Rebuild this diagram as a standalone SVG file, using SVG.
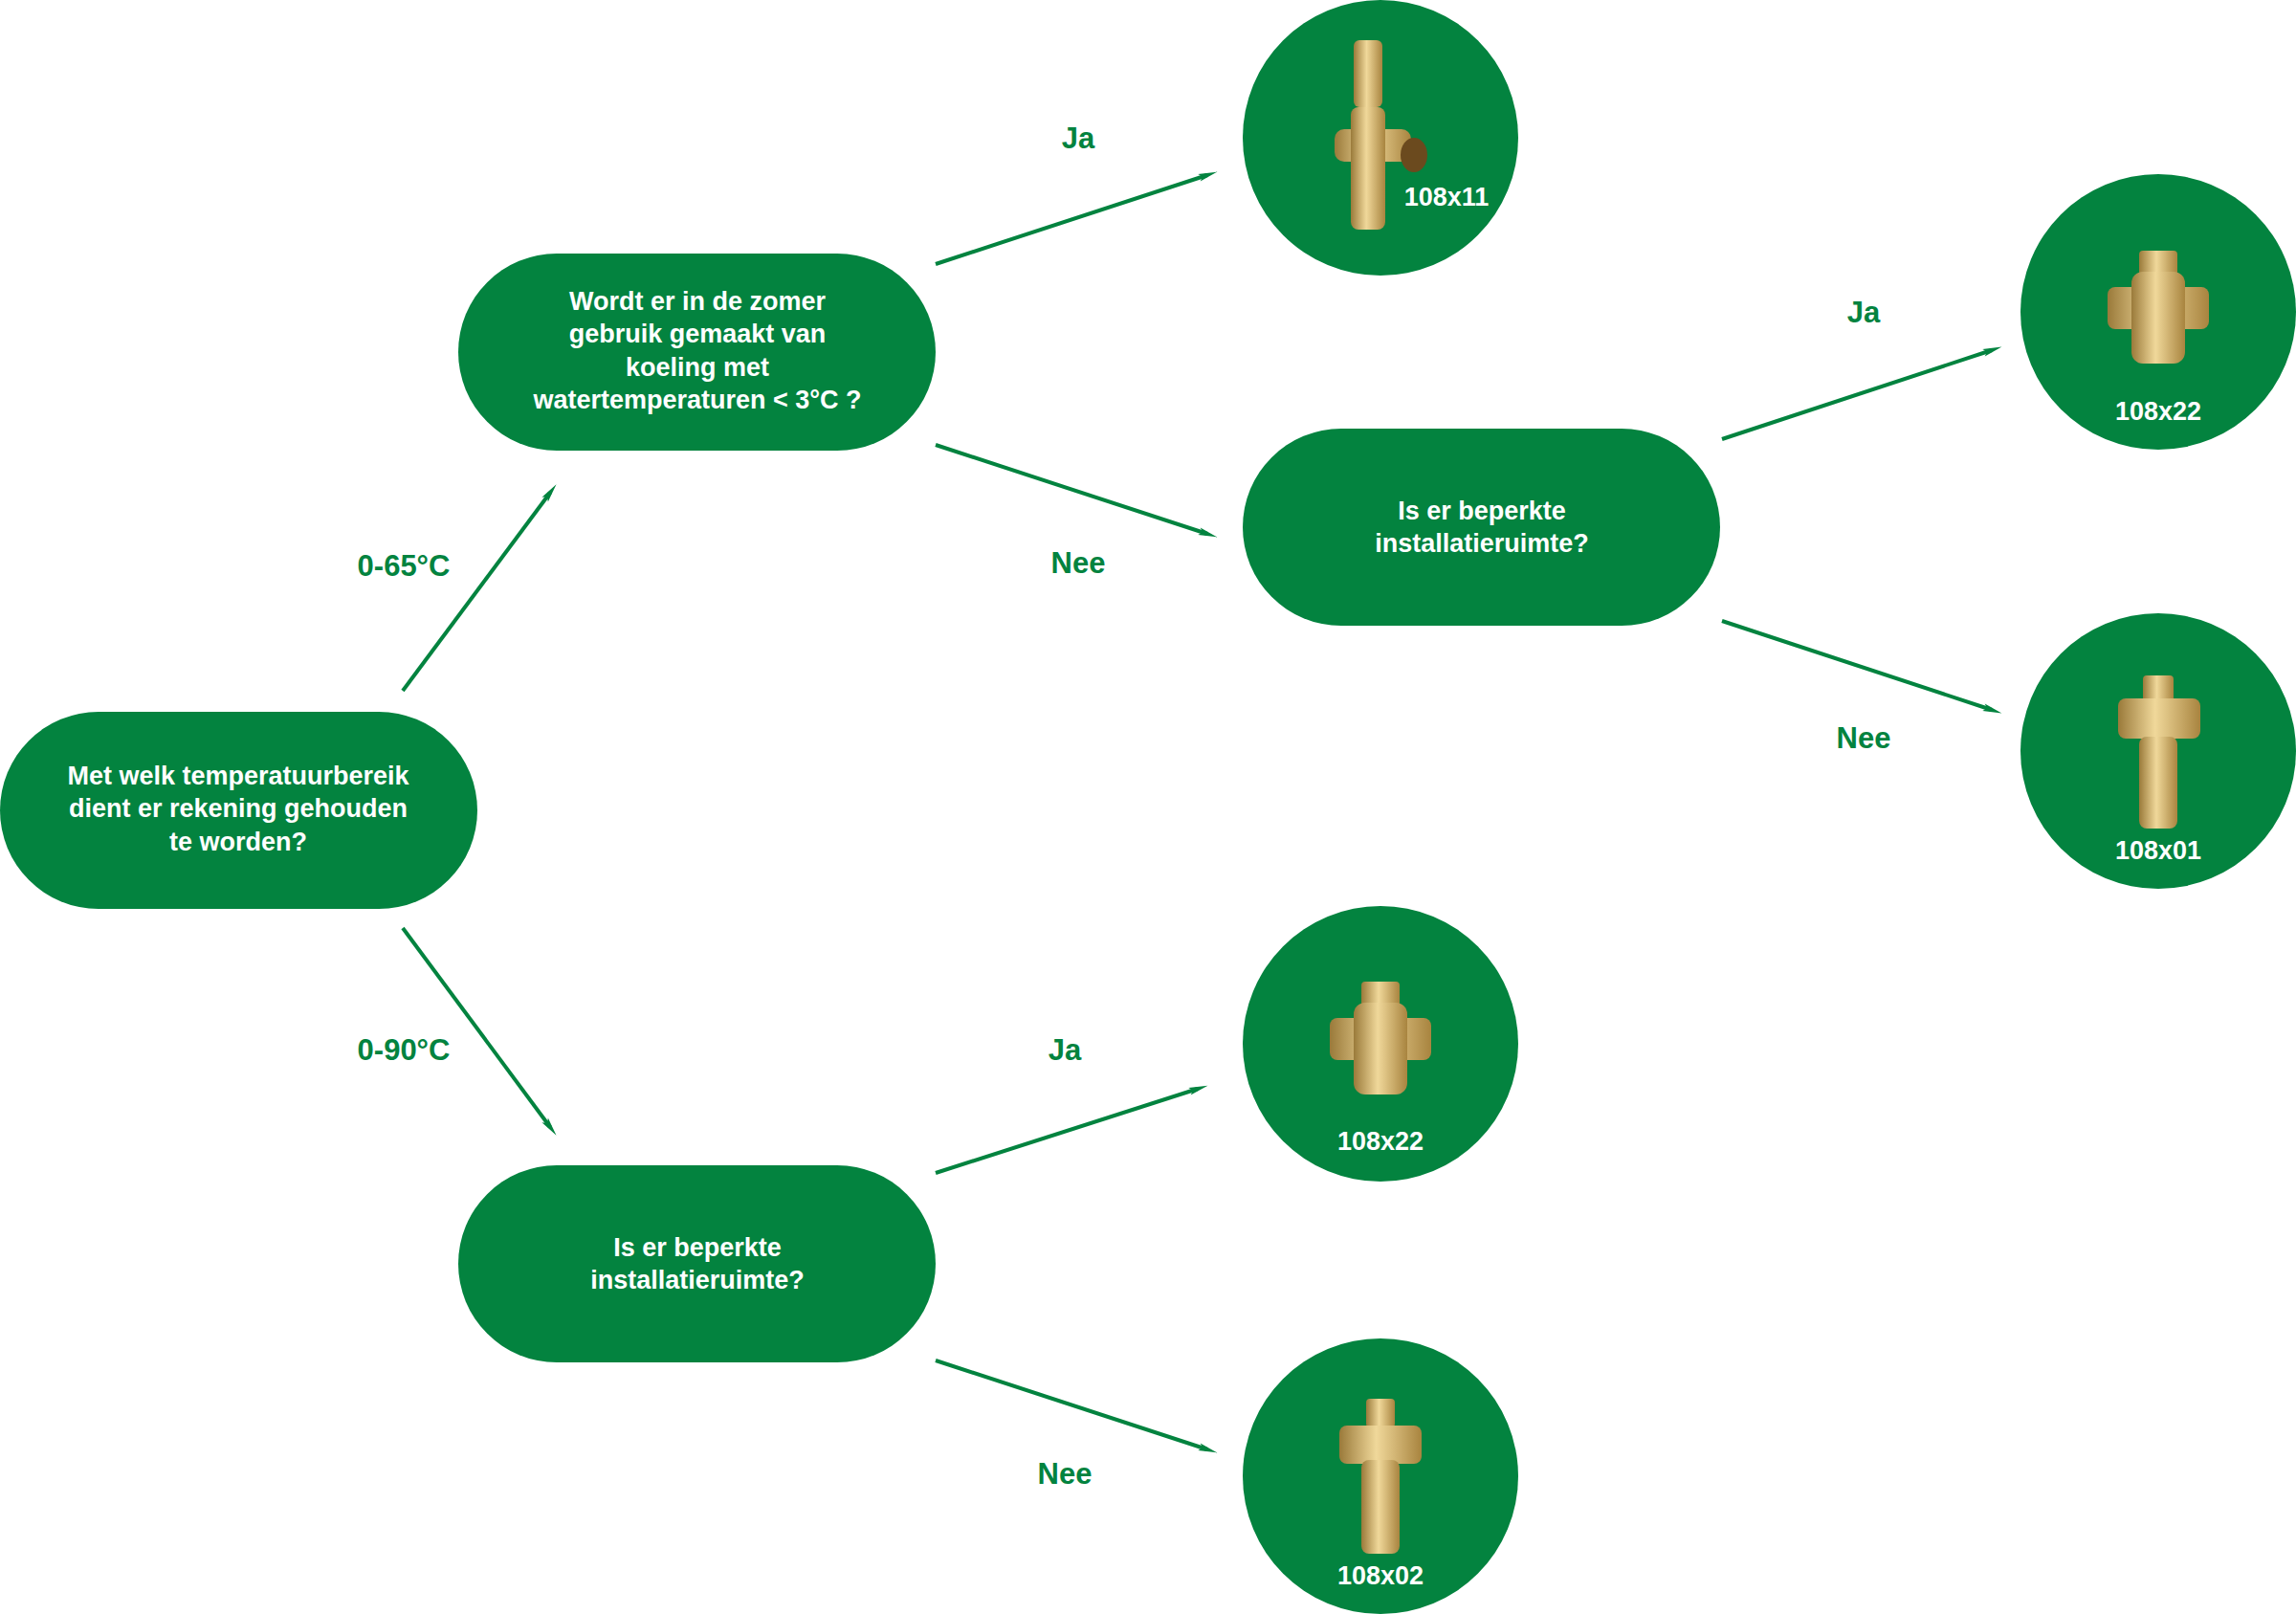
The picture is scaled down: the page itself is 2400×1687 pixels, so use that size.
<svg xmlns="http://www.w3.org/2000/svg" width="2400" height="1687" viewBox="0 0 2400 1687">
<style>
.node{fill:#03833f}
.nt{fill:#fff;font-family:"Liberation Sans",Arial,sans-serif;font-weight:bold;font-size:27px;text-anchor:middle}
.lb{fill:#03833f;font-family:"Liberation Sans",Arial,sans-serif;font-weight:bold;font-size:31px;text-anchor:middle}
.cn{stroke:#03833f;stroke-width:4;fill:none;marker-end:url(#ah)}
.brass{fill:url(#br)}
</style>
<defs>
<marker id="ah" viewBox="0 0 20 16" refX="18" refY="8" markerWidth="10" markerHeight="8" markerUnits="userSpaceOnUse" orient="auto" overflow="visible">
<path d="M0,0 L40,8 L0,16 L8,8 Z" fill="#03833f" transform="scale(1)"/>
</marker>
<linearGradient id="br" x1="0" x2="1"><stop offset="0" stop-color="#9a7a3a"/><stop offset="0.45" stop-color="#f0d89a"/><stop offset="1" stop-color="#a8843f"/></linearGradient>
</defs>
<g id="connectors">
<line class="cn" x1="421" y1="722" x2="575" y2="515"/>
<line class="cn" x1="421" y1="970" x2="575" y2="1178"/>
<line class="cn" x1="978" y1="276" x2="1262" y2="183"/>
<line class="cn" x1="978" y1="465" x2="1262" y2="558"/>
<line class="cn" x1="1800" y1="459" x2="2082" y2="366"/>
<line class="cn" x1="1800" y1="649" x2="2082" y2="742"/>
<line class="cn" x1="978" y1="1226" x2="1252" y2="1138"/>
<line class="cn" x1="978" y1="1422" x2="1262" y2="1515"/>
<text class="lb" x="422" y="602">0-65°C</text>
<text class="lb" x="422" y="1108">0-90°C</text>
<text class="lb" x="1127" y="155">Ja</text>
<text class="lb" x="1127" y="599">Nee</text>
<text class="lb" x="1948" y="337">Ja</text>
<text class="lb" x="1948" y="782">Nee</text>
<text class="lb" x="1113" y="1108">Ja</text>
<text class="lb" x="1113" y="1551">Nee</text>
</g>
<g id="start"><rect class="node" x="0" y="744" width="499" height="206" rx="103"/>
<text class="nt" x="249" y="820">Met welk temperatuurbereik</text><text class="nt" x="249" y="854">dient er rekening gehouden</text><text class="nt" x="249" y="889">te worden?</text></g>
<g id="q1"><rect class="node" x="479" y="265" width="499" height="206" rx="103"/>
<text class="nt" x="729" y="324">Wordt er in de zomer</text><text class="nt" x="729" y="358">gebruik gemaakt van</text><text class="nt" x="729" y="393">koeling met</text><text class="nt" x="729" y="427">watertemperaturen &lt; 3°C ?</text></g>
<g id="q2"><rect class="node" x="1299" y="448" width="499" height="206" rx="103"/>
<text class="nt" x="1549" y="543">Is er beperkte</text><text class="nt" x="1549" y="577">installatieruimte?</text></g>
<g id="q3"><rect class="node" x="479" y="1218" width="499" height="206" rx="103"/>
<text class="nt" x="729" y="1313">Is er beperkte</text><text class="nt" x="729" y="1347">installatieruimte?</text></g>
<g id="p108x11"><circle class="node" cx="1443" cy="144" r="144"/>
<rect class="brass" x="1415" y="42" width="30" height="70" rx="6"/><rect class="brass" x="1395" y="135" width="80" height="34" rx="10"/><ellipse cx="1478" cy="162" rx="14" ry="18" fill="#6b4a1e"/><rect class="brass" x="1412" y="112" width="36" height="128" rx="8"/>
<text class="nt" x="1512" y="215">108x11</text></g>
<g id="p108x22a"><circle class="node" cx="2256" cy="326" r="144"/>
<rect class="brass" x="2236" y="262" width="40" height="30" rx="4"/><rect class="brass" x="2203" y="300" width="106" height="44" rx="8"/><rect class="brass" x="2228" y="284" width="56" height="96" rx="12"/>
<text class="nt" x="2256" y="439">108x22</text></g>
<g id="p108x01"><circle class="node" cx="2256" cy="785" r="144"/>
<rect class="brass" x="2240" y="706" width="32" height="30" rx="4"/><rect class="brass" x="2214" y="730" width="86" height="42" rx="8"/><rect class="brass" x="2236" y="770" width="40" height="96" rx="8"/>
<text class="nt" x="2256" y="898">108x01</text></g>
<g id="p108x22b"><circle class="node" cx="1443" cy="1091" r="144"/>
<rect class="brass" x="1423" y="1026" width="40" height="30" rx="4"/><rect class="brass" x="1390" y="1064" width="106" height="44" rx="8"/><rect class="brass" x="1415" y="1048" width="56" height="96" rx="12"/>
<text class="nt" x="1443" y="1202">108x22</text></g>
<g id="p108x02"><circle class="node" cx="1443" cy="1543" r="144"/>
<rect class="brass" x="1428" y="1462" width="30" height="30" rx="4"/><rect class="brass" x="1400" y="1490" width="86" height="40" rx="8"/><rect class="brass" x="1423" y="1526" width="40" height="98" rx="8"/>
<text class="nt" x="1443" y="1656">108x02</text></g>
</svg>
